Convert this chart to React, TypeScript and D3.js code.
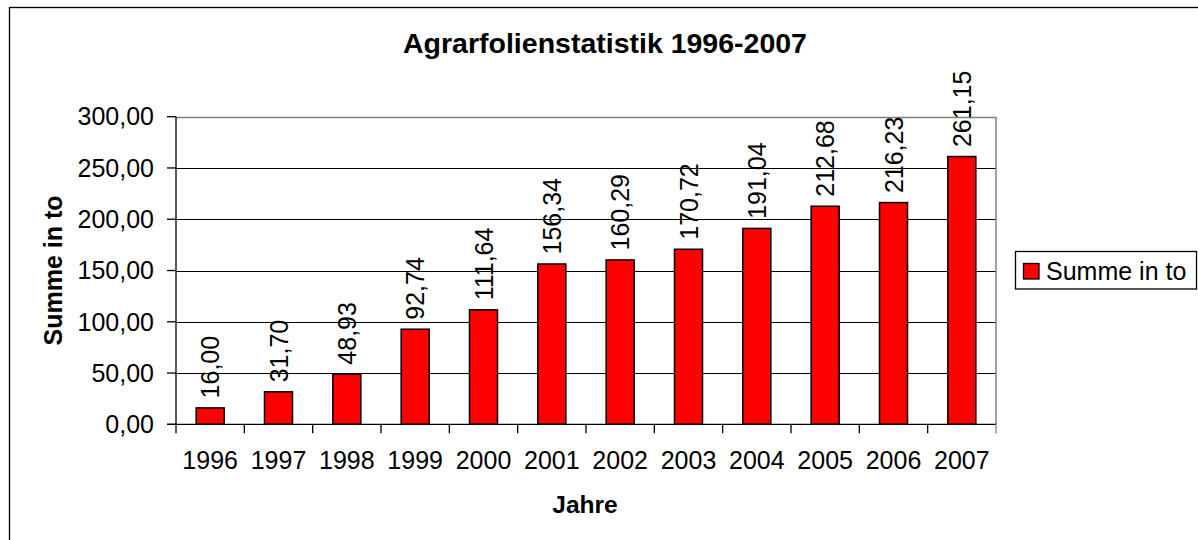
import React from "react";
import * as d3 from "d3";

const years = ["1996", "1997", "1998", "1999", "2000", "2001", "2002", "2003", "2004", "2005", "2006", "2007"];
const values = [16.0, 31.7, 48.93, 92.74, 111.64, 156.34, 160.29, 170.72, 191.04, 212.68, 216.23, 261.15];
const yTicks = [0, 50, 100, 150, 200, 250, 300];
const title = "Agrarfolienstatistik 1996-2007";
const xTitle = "Jahre";
const yTitle = "Summe in to";
const seriesName = "Summe in to";

const W = 1198;
const H = 540;
const left = 176;
const right = 996;
const top = 116.7;
const bottom = 424.3;
const font = "'Liberation Sans', Arial, sans-serif";

const fmt = (v: number) => v.toFixed(2).replace(".", ",");

export default function App() {
  const x = d3.scaleBand<string>().domain(years).range([left, right]).padding(0);
  const y = d3.scaleLinear().domain([0, 300]).range([bottom, top]);
  const bw = x.bandwidth() * 0.41;
  const boundaries = d3.range(years.length + 1).map((i) => left + i * x.step());

  return (
    <div style={{ position: "absolute", left: 0, top: 0 }}>
      <svg width={W} height={H} style={{ display: "block" }} fontFamily={font}>
        <rect x={0} y={0} width={W} height={H} fill="#fff" />
        <rect x={9.5} y={7.5} width={W + 20} height={H + 20} fill="none" stroke="#000" strokeWidth={1.3} />
        <text x={605} y={53.3} textAnchor="middle" fontSize={28.5} fontWeight="bold">{title}</text>

        {/* gridlines */}
        {yTicks.filter((t) => t > 0 && t < 300).map((t) => (
          <line key={t} x1={left} x2={right} y1={Math.round(y(t)) + 0.5} y2={Math.round(y(t)) + 0.5} stroke="#000" strokeWidth={1} />
        ))}
        {/* plot border top & right */}
        <line x1={left} x2={right} y1={Math.round(top) + 0.5} y2={Math.round(top) + 0.5} stroke="#808080" strokeWidth={1.5} />
        <line x1={right} x2={right} y1={top} y2={bottom} stroke="#808080" strokeWidth={1.5} />

        {/* bars */}
        {values.map((v, i) => {
          const cx = (x(years[i]) as number) + x.bandwidth() / 2;
          return (
            <rect key={i} x={cx - bw / 2} y={y(v)} width={bw} height={bottom - y(v)} fill="#FF0000" stroke="#000" strokeWidth={1.5} />
          );
        })}

        {/* axes */}
        <line x1={left} x2={left} y1={top} y2={bottom} stroke="#000" strokeWidth={1.3} />
        <line x1={left - 9} x2={right} y1={bottom} y2={bottom} stroke="#000" strokeWidth={1.3} />
        {yTicks.map((t) => (
          <g key={t}>
            <line x1={left - 9} x2={left} y1={y(t)} y2={y(t)} stroke="#000" strokeWidth={1.3} />
            <text x={154} y={y(t)} dy="0.35em" textAnchor="end" fontSize={25}>{fmt(t)}</text>
          </g>
        ))}
        {boundaries.map((b, i) => (
          <line key={i} x1={b} x2={b} y1={bottom} y2={bottom + 9} stroke={i === years.length ? "#808080" : "#000"} strokeWidth={1.3} />
        ))}
        {years.map((yr) => (
          <text key={yr} x={(x(yr) as number) + x.bandwidth() / 2} y={469.3} textAnchor="middle" fontSize={25}>{yr}</text>
        ))}

        {/* data labels */}
        {values.map((v, i) => {
          const cx = (x(years[i]) as number) + x.bandwidth() / 2;
          const ty = y(v) - 9.5;
          return (
            <text key={i} transform={`translate(${cx + 9},${ty}) rotate(-90)`} fontSize={25}>{fmt(v)}</text>
          );
        })}

        {/* axis titles */}
        <text x={585} y={513.3} textAnchor="middle" fontSize={24.5} fontWeight="bold">{xTitle}</text>
        <text transform={`translate(61.5,${(top + bottom) / 2}) rotate(-90)`} textAnchor="middle" fontSize={25} fontWeight="bold">{yTitle}</text>

        {/* legend */}
        <rect x={1015.5} y={251.5} width={181} height={37.5} fill="#fff" stroke="#000" strokeWidth={1.3} />
        <rect x={1023.5} y={263.5} width={15.5} height={15.5} fill="#FF0000" stroke="#000" strokeWidth={1.3} />
        <text x={1046} y={271} dy="0.35em" fontSize={25}>{seriesName}</text>
      </svg>
    </div>
  );
}
